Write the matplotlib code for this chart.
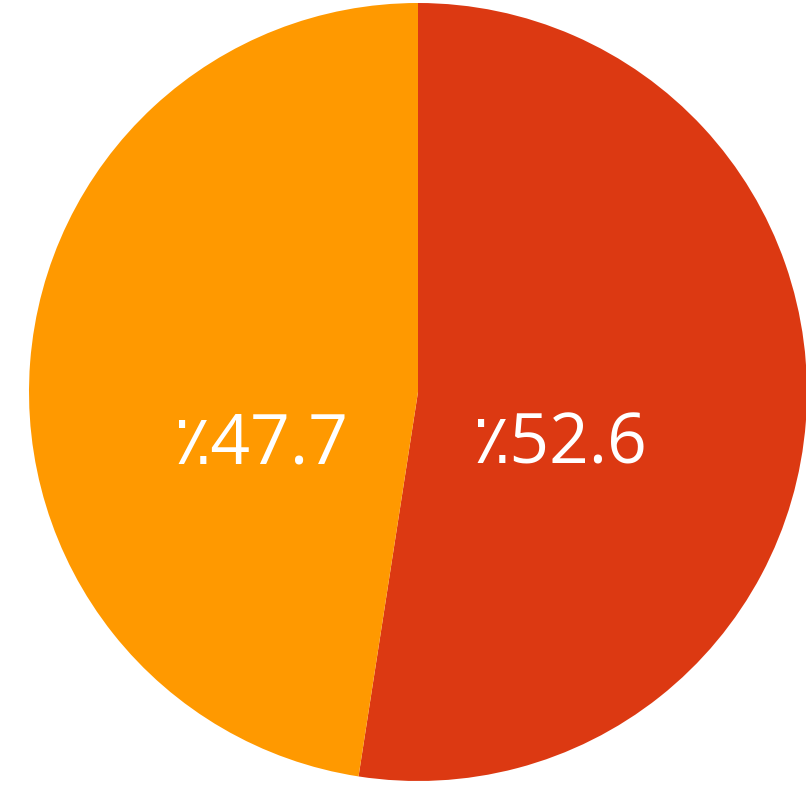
import matplotlib
matplotlib.use("Agg")
import matplotlib.pyplot as plt

# shares (percent)
labels = ["٪52.6", "٪47.7"]
values = [52.6, 47.7]
colors = ["#dc3912", "#ff9900"]

W, H = 806, 808
fig = plt.figure(figsize=(W / 100, H / 100), dpi=100)
fig.patch.set_facecolor("white")

# pie: center ~ (418, 392) px from top-left, radius ~389 px
cx, cy, r = 418, 392, 389
ax = fig.add_axes([(cx - r) / W, (H - cy - r) / H, 2 * r / W, 2 * r / H])

wedges, texts = ax.pie(values, colors=colors, startangle=90, counterclock=False,
                       labels=labels, labeldistance=0.385, radius=1,
                       wedgeprops=dict(linewidth=0),
                       textprops=dict(color="white", fontsize=50,
                                      family=["Open Sans", "DejaVu Sans"],
                                      ha="center", va="center"))
# google-style: labels sit a bit lower than the slice mid angle
for t in texts:
    x, y = t.get_position()
    t.set_position((x - 0.02, -0.137))
    t.set_ha("center")

ax.set_xlim(-1, 1)
ax.set_ylim(-1, 1)
ax.set_aspect("equal")
ax.axis("off")

fig.savefig("out.png", dpi=100, facecolor="white")
